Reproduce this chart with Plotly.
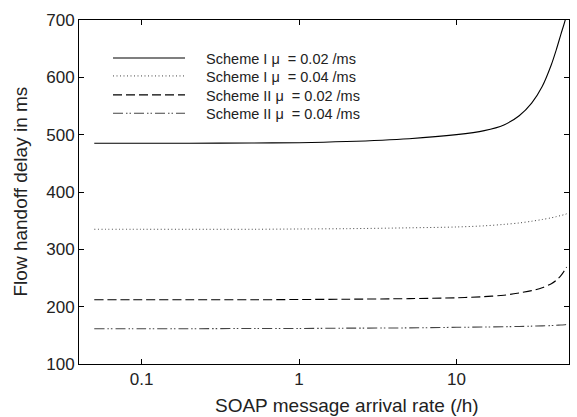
import plotly.graph_objects as go
import math

arrival_rate = [0.05, 0.1, 0.2, 0.5, 1, 2, 5, 10, 15, 20, 25, 30, 35, 40, 43, 46, 49, 50]

scheme1_mu002 = [485, 485, 485, 485.5, 486, 488, 493, 500, 507, 517, 533, 555, 584, 622, 648, 675, 700, 712]
scheme1_mu004 = [335, 335, 335, 335, 335.5, 336, 337.5, 339, 341, 343.5, 346, 349, 352, 355, 357, 359, 361, 362]
scheme2_mu002 = [212, 212, 212, 212, 212.5, 213, 214, 215.5, 217.5, 220, 224, 228, 233, 240, 246, 254, 265, 269]
scheme2_mu004 = [161.5, 161.5, 161.5, 162, 162, 162.5, 163, 164, 164.5, 165, 165.5, 166, 166.5, 167, 167.5, 168, 168.5, 169]

names = [
    "Scheme I \u03bc\u00a0 = 0.02 /ms",
    "Scheme I \u03bc\u00a0 = 0.04 /ms",
    "Scheme II \u03bc\u00a0 = 0.02 /ms",
    "Scheme II \u03bc\u00a0 = 0.04 /ms",
]
series = [scheme1_mu002, scheme1_mu004, scheme2_mu002, scheme2_mu004]
styles = [
    dict(color="black", width=1.1, dash="solid"),
    dict(color="#444444", width=1, dash="1px,2.5px"),
    dict(color="black", width=1.1, dash="9px,4px"),
    dict(color="#444444", width=1.1, dash="10px,3px,1.5px,2px,1.5px,3px"),
]
legend_ids = ["legend", "legend2", "legend3", "legend4"]
legend_rows_y = [0.8895, 0.8372, 0.782, 0.7288]

font_family = "Liberation Sans, Arial, sans-serif"

fig = go.Figure()
for n, s, st, lid in zip(names, series, styles, legend_ids):
    fig.add_trace(go.Scatter(x=arrival_rate, y=s, name="\u00a0\u00a0\u00a0\u00a0" + n, mode="lines",
                             legend=lid,
                             line=dict(shape="spline", smoothing=0.9, **st)))

legend_layout = {}
for lid, ly in zip(legend_ids, legend_rows_y):
    legend_layout[lid] = dict(x=0.0592, y=ly, xanchor="left", yanchor="middle",
                              bgcolor="rgba(0,0,0,0)", borderwidth=0,
                              font=dict(size=14.5, family=font_family, color="#222"),
                              itemwidth=72)

fig.update_layout(
    width=577, height=417,
    margin=dict(l=79, r=8, t=20, b=53),
    paper_bgcolor="white", plot_bgcolor="white",
    font=dict(family=font_family, size=17, color="#222"),
    showlegend=True,
    xaxis=dict(type="log", range=[math.log10(0.04), math.log10(51.8)],
               tickvals=[0.1, 1, 10], ticktext=["0.1", "1", "10"],
               ticks="inside", ticklen=5, tickcolor="black",
               showline=True, linecolor="black", linewidth=1, mirror="ticks",
               showgrid=False, zeroline=False, tickfont=dict(size=17)),
    yaxis=dict(range=[100, 700], tickvals=[100, 200, 300, 400, 500, 600, 700],
               ticks="inside", ticklen=5, tickcolor="black",
               showline=True, linecolor="black", linewidth=1, mirror="ticks",
               showgrid=False, zeroline=False, tickfont=dict(size=17)),
    annotations=[
        dict(text="SOAP message arrival rate (/h)", xref="paper", yref="paper",
             x=0.547, y=0, yshift=-41, xanchor="center", yanchor="middle",
             showarrow=False, font=dict(size=19)),
        dict(text="Flow handoff delay in ms", xref="paper", yref="paper",
             x=0, xshift=-59.5, y=0.5, xanchor="center", yanchor="middle",
             textangle=-90, showarrow=False, font=dict(size=19)),
    ],
    **legend_layout,
)

fig.write_html("out.html", config={"displayModeBar": False},
               post_script="document.body.style.margin='0';")
